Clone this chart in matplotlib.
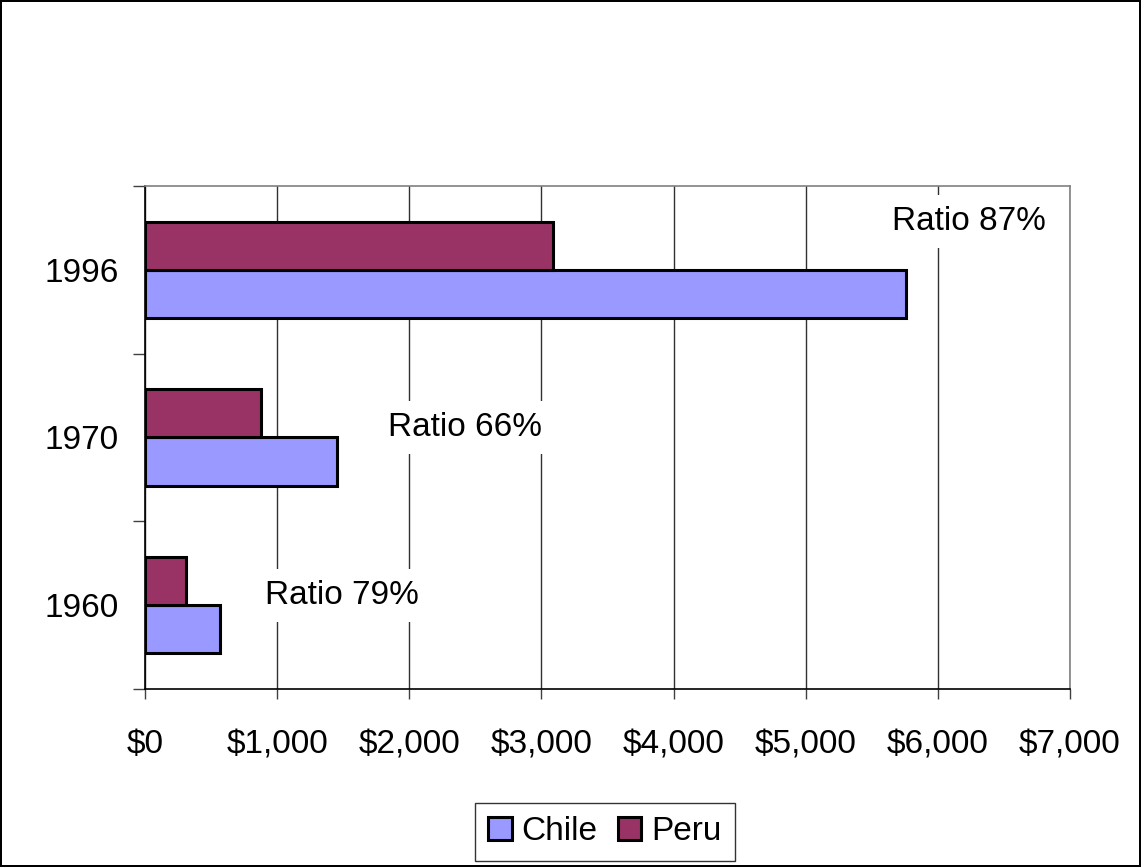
import matplotlib.pyplot as plt
import numpy as np

plt.rcParams['font.family'] = ['Liberation Sans', 'DejaVu Sans']

# data
years = ['1960', '1970', '1996']
chile = [568, 1453, 5760]
peru = [310, 878, 3088]
ratio_labels = ['Ratio 79%', 'Ratio 66%', 'Ratio 87%']
ratio_x = [1491, 2422, 6238]
ratio_y = [0.06, 1.06, 2.29]

fig = plt.figure(figsize=(11.41, 8.67), dpi=100)
fig.patch.set_edgecolor('black')
fig.patch.set_linewidth(1.5)
ax = fig.add_axes([0.1271, 0.2053, 0.8107, 0.5802])

y = np.arange(len(years))
h = 0.287
ax.barh(y - h/2, chile, h, color='#9999ff', edgecolor='black', linewidth=2.2, label='Chile', zorder=3)
ax.barh(y + h/2, peru, h, color='#993366', edgecolor='black', linewidth=2.2, label='Peru', zorder=3)

ax.set_xlim(0, 7000)
ax.set_ylim(-0.5, 2.5)
ax.set_xticks(np.arange(0, 7001, 1000))
ax.set_xticklabels(['$' + format(v, ',') for v in range(0, 7001, 1000)], fontsize=24)
ax.set_yticks(y)
ax.set_yticklabels(years, fontsize=24)
ax.set_yticks([-0.5, 0.5, 1.5, 2.5], minor=True)
ax.tick_params(axis='y', which='major', length=0, pad=19)
ax.tick_params(axis='y', which='minor', length=9, width=1, color='#404040')
ax.tick_params(axis='x', which='major', length=7, width=1, color='#404040', pad=22)
ax.xaxis.grid(True, color='#303030', linewidth=1, zorder=0)

for s in ['top', 'right']:
    ax.spines[s].set_color('#808080')
    ax.spines[s].set_linewidth(1.2)
for s in ['left', 'bottom']:
    ax.spines[s].set_color('black')
    ax.spines[s].set_linewidth(1.2)

for lab, xx, yy in zip(ratio_labels, ratio_x, ratio_y):
    ax.text(xx, yy, lab, fontsize=24, ha='center', va='center', zorder=2,
            bbox=dict(facecolor='white', edgecolor='none', pad=8))

leg = fig.legend(loc='center', bbox_to_anchor=(0.530, 0.0404), ncol=2, fontsize=24,
                 frameon=True, fancybox=False, edgecolor='black', handlelength=0.7,
                 handleheight=0.7, handletextpad=0.3, columnspacing=0.6, borderpad=0.4)
leg.get_frame().set_linewidth(1)

fig.savefig('out.png', dpi=100, edgecolor=fig.get_edgecolor())
